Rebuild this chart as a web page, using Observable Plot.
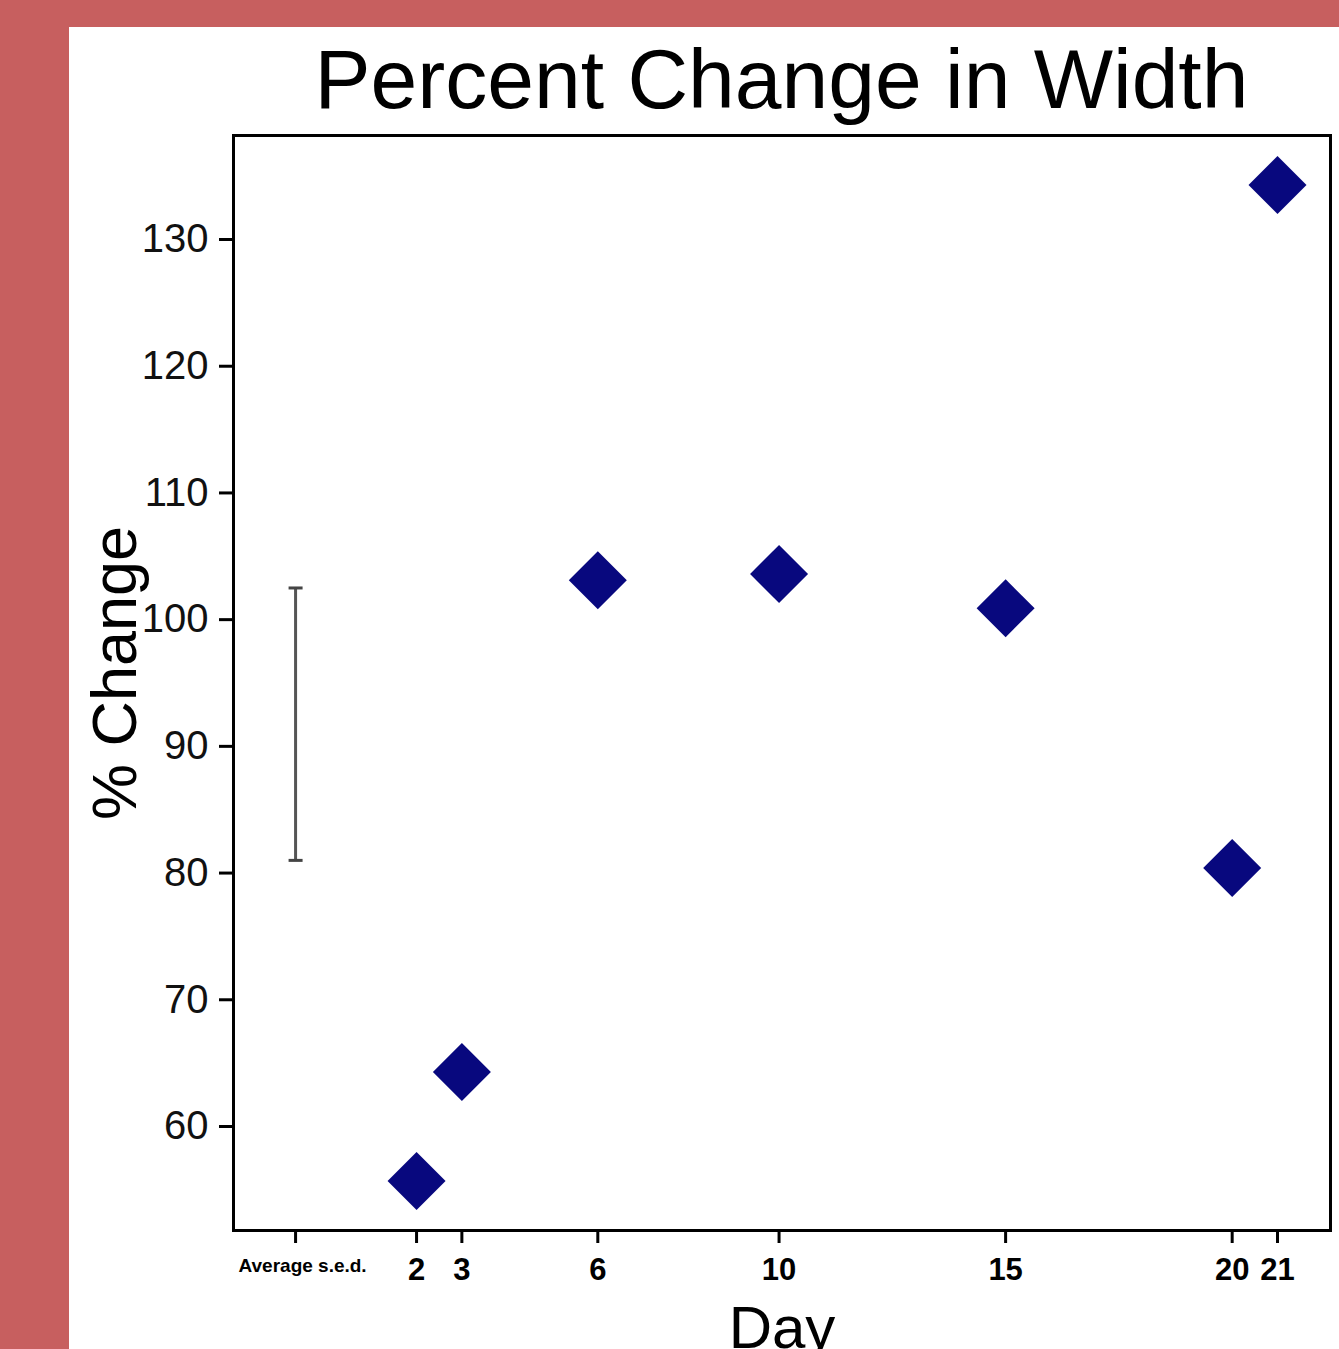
<!DOCTYPE html>
<html>
<head>
<meta charset="utf-8">
<script src="https://cdn.jsdelivr.net/npm/d3@7"></script>
<script src="https://cdn.jsdelivr.net/npm/@observablehq/plot@0.6"></script>
<style>
  html, body { margin: 0; padding: 0; }
  body { width: 1339px; height: 1349px; background: #c75f5f; overflow: hidden; position: relative; font-family: "Liberation Sans", Arial, sans-serif; }
  #panel { position: absolute; left: 69px; top: 27px; width: 1270px; height: 1322px; background: #fff; overflow: hidden; }
  #title { margin-left: 164px; width: 1097px; height: 98px; box-sizing: border-box; padding-top: 10px; font-size: 84px; line-height: 84px; text-align: center; color: #000; white-space: nowrap; }
  #chart svg { display: block; overflow: visible; }
</style>
</head>
<body>
<div id="panel">
  <div id="title">Percent Change in Width</div>
  <div id="chart"></div>
</div>
<script>
// ---- data ----
const days = [2, 3, 6, 10, 15, 20, 21];
const pctChange = [55.7, 64.3, 103.1, 103.6, 100.9, 80.4, 134.3];
const xTickValues = [2, 3, 6, 10, 15, 20, 21];
const yTickValues = [60, 70, 80, 90, 100, 110, 120, 130];
const sedPosition = [-0.67];       // x position of the "Average s.e.d." bar
const sedLow = [81.0];
const sedHigh = [102.5];
const sedLabel = ["Average s.e.d."];
const titleText = "Percent Change in Width";
const yLabel = "% Change";
const xLabel = "Day";

const points = days.map((d, i) => ({day: d, value: pctChange[i]}));
const sed = sedPosition.map((p, i) => ({x: p, low: sedLow[i], high: sedHigh[i], label: sedLabel[i]}));
const sedEnds = sed.flatMap(d => [{x: d.x, y: d.low}, {x: d.x, y: d.high}]);

const diamond = {
  draw(ctx, size) {
    const r = Math.sqrt(size / Math.PI);
    ctx.moveTo(0, -r); ctx.lineTo(r, 0); ctx.lineTo(0, r); ctx.lineTo(-r, 0); ctx.closePath();
  }
};
const hcap = {
  draw(ctx, size) {
    const r = Math.sqrt(size / Math.PI);
    ctx.moveTo(-r, 0); ctx.lineTo(r, 0);
  }
};

const chart = Plot.plot({
  width: 1270,
  height: 1224,
  marginTop: 10,
  marginBottom: 119,
  marginLeft: 164,
  marginRight: 9,
  style: {background: "white", color: "#000", fontFamily: "'Liberation Sans', Arial, sans-serif", overflow: "visible"},
  x: {domain: [-2.04, 22.17]},
  y: {domain: [51.79, 138.21]},
  marks: [
    Plot.axisY({ticks: yTickValues, tickSize: 14, tickPadding: 11, fontSize: 40, strokeWidth: 3, label: null, fill: "#111"}),
    Plot.axisX({ticks: xTickValues, tickSize: 13, tickPadding: 14, fontSize: 31, fontWeight: "bold", strokeWidth: 3, label: null}),
    Plot.axisX({ticks: sedPosition, tickFormat: () => "", tickSize: 13, strokeWidth: 3, label: null}),
    Plot.text(sed, {x: "x", text: "label", frameAnchor: "bottom", lineAnchor: "top", dy: 28, dx: 7, fontSize: 19, fontWeight: "bold", fill: "#000"}),
    Plot.ruleX(sed, {x: "x", y1: "low", y2: "high", stroke: "#555", strokeWidth: 3}),
    Plot.dot(sedEnds, {x: "x", y: "y", symbol: hcap, r: 7, stroke: "#444", strokeWidth: 3, fill: "none"}),
    Plot.dot(points, {x: "day", y: "value", symbol: diamond, r: 29, fill: "#08087e", stroke: "none"}),
    Plot.frame({stroke: "#000", strokeWidth: 3}),
    Plot.text([yLabel], {frameAnchor: "left", rotate: -90, dx: -118, dy: -10, fontSize: 63, fill: "#000", textAnchor: "middle"}),
    Plot.text([xLabel], {frameAnchor: "bottom", lineAnchor: "top", dy: 75, fontSize: 60, fill: "#000"})
  ]
});
document.getElementById("chart").appendChild(chart);
</script>
</body>
</html>
